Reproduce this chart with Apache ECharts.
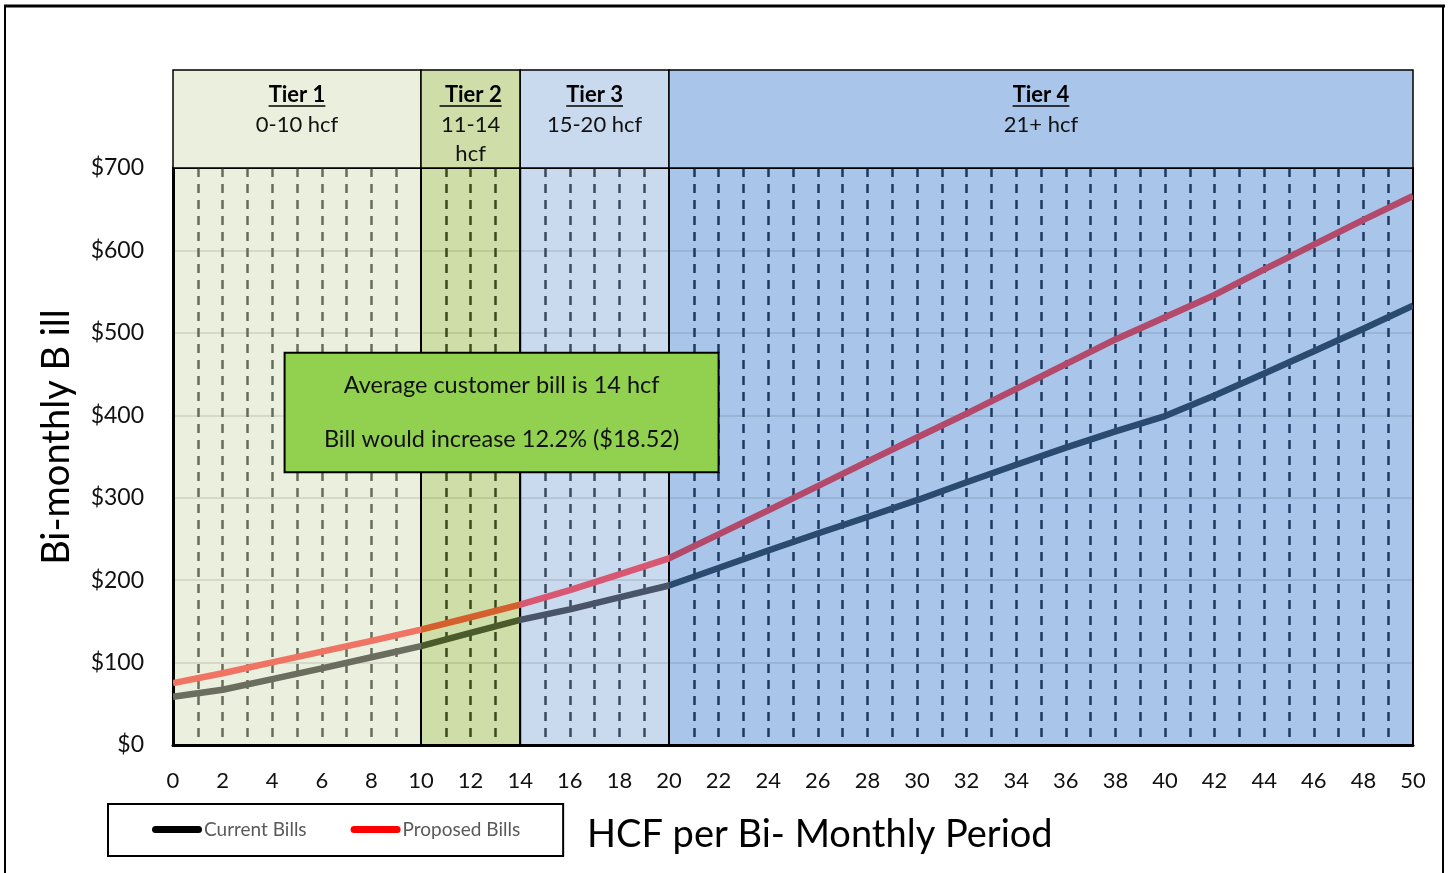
<!DOCTYPE html>
<html><head><meta charset="utf-8">
<script src="https://cdn.jsdelivr.net/npm/echarts@6/dist/echarts.min.js"></script>
<style>html,body{margin:0;padding:0;background:#fff}#c{width:1448px;height:873px}</style>
</head><body><div id="c"></div>
<script>
// ---------- data ----------
const hcf = [0,2,4,6,8,10,12,14,16,18,20,22,24,26,28,30,32,34,36,38,40,42,44,46,48,50];
const currentBills  = [58.6,67,80,93,106.5,120,136,151.8,164.6,179,193.5,214.7,236,256.6,276.6,297,318.7,340,360.7,380.5,399,424,450.7,477.7,505,533];
const proposedBills = [75,87,100.3,113.2,126.3,140,155,170.3,188,207,226.5,255.5,284.6,314,343.7,373,402,432,462,492,519,546,577,607,637,666];
const tierNames  = ['Tier 1',' Tier 2','Tier 3','Tier 4'];
const tierRanges = ['0-10 hcf','11-14\nhcf','15-20 hcf','21+ hcf'];
const tierStart  = [0,10,14,20];
const tierEnd    = [10,14,20,50];
const noteLines  = ['Average customer bill is 14 hcf','Bill would increase 12.2% ($18.52)'];
const seriesNames = ['Current Bills','Proposed Bills'];
const yAxisTitle = 'Bi-monthly B ill';
const xAxisTitle = 'HCF per Bi- Monthly Period';

// ---------- styles ----------
const FONT = 'Lato, "Open Sans", sans-serif';
const tierBg      = ['#ebefdd','#cfdea8','#c9d9ee','#a9c6ea'];
const tierDash    = ['#676c5b','#3a4a1d','#38485f','#1d3960'];
const currentCols = ['#6b6e5e','#4b5a2a','#4a5468','#2b4a6f'];
const proposedCols= ['#f07464','#d4602e','#d75870','#b34a6b'];
const X_MIN = 0, X_MAX = 50, Y_MAX = 700;

const cur = hcf.map((x,i)=>[x,currentBills[i]]);
const pro = hcf.map((x,i)=>[x,proposedBills[i]]);
const tierData = tierStart.map((s,i)=>[s,tierEnd[i],i,0]);

const dashColors = [];
for (let v = X_MIN; v <= X_MAX; v++) {
  let c = 'rgba(0,0,0,0)';
  for (let i = 0; i < tierStart.length; i++) {
    if (v > tierStart[i] && v < tierEnd[i]) c = tierDash[i];
  }
  dashColors.push(c);
}
function pieces(cols){
  return tierStart.map((s,i)=> i < tierStart.length-1 ? {gte:s, lt:tierEnd[i], color:cols[i]} : {gte:s, lte:tierEnd[i], color:cols[i]});
}
const mctx = document.createElement('canvas').getContext('2d');
function textW(t, font){ mctx.font = font; return mctx.measureText(t).width; }

const chart = echarts.init(document.getElementById('c'), null, {renderer:'canvas'});
chart.setOption({
  animation:false,
  backgroundColor:'#fff',
  textStyle:{fontFamily:FONT},
  grid:[
    {left:173, top:168, width:1240, height:577},
    {left:173, top:70, width:1240, height:98}
  ],
  xAxis:[
    {type:'value', gridIndex:0, min:X_MIN, max:X_MAX, interval:2,
     axisLine:{show:true, onZero:false, lineStyle:{color:'#000', width:3}},
     axisTick:{show:false}, splitLine:{show:false},
     axisLabel:{color:'#111', fontSize:22, fontFamily:FONT, margin:25}},
    {type:'value', gridIndex:0, min:X_MIN, max:X_MAX, interval:1, position:'bottom',
     axisLine:{show:false}, axisTick:{show:false}, axisLabel:{show:false},
     splitLine:{show:true, lineStyle:{color:dashColors, width:2.5, type:[9,7]}}},
    {type:'value', gridIndex:1, min:X_MIN, max:X_MAX, show:false}
  ],
  yAxis:[
    {type:'value', gridIndex:0, min:0, max:Y_MAX, interval:100,
     axisLine:{show:true, lineStyle:{color:'#000', width:3}}, axisTick:{show:false},
     splitLine:{show:true, lineStyle:{color:'rgba(0,0,0,0.09)', width:2}},
     axisLabel:{color:'#111', fontSize:23, fontFamily:FONT, margin:29, formatter:v=>'$'+v}},
    {type:'value', gridIndex:1, min:0, max:1, show:false}
  ],
  visualMap:[
    {type:'piecewise', show:false, dimension:0, seriesIndex:2, pieces:pieces(currentCols)},
    {type:'piecewise', show:false, dimension:0, seriesIndex:3, pieces:pieces(proposedCols)}
  ],
  legend:{
    left:108, top:804, orient:'horizontal',
    padding:[16,43,17,44], itemGap:44, itemWidth:50, itemHeight:7,
    borderColor:'#000', borderWidth:2,
    icon:'path://M3.5,0 H46.5 A3.5,3.5 0 0 1 46.5,7 H3.5 A3.5,3.5 0 0 1 3.5,0 Z',
    textStyle:{color:'#595959', fontSize:19, fontFamily:FONT, padding:[0,0,0,-3]},
    data:[{name:seriesNames[0], itemStyle:{color:'#000'}},{name:seriesNames[1], itemStyle:{color:'#ff0000'}}]
  },
  series:[
    {type:'custom', name:'tiers', xAxisIndex:0, yAxisIndex:0, z:-1, silent:true,
     encode:{x:[0,1], y:3}, data:tierData,
     renderItem:function(params, api){
       const i = api.value(2);
       const a = api.coord([api.value(0), Y_MAX]);
       const b = api.coord([api.value(1), 0]);
       return {type:'rect', shape:{x:a[0], y:a[1], width:b[0]-a[0], height:b[1]-a[1]},
               style:{fill:tierBg[i], stroke:'#000', lineWidth:2}};
     }},
    {type:'custom', name:'tierHeads', xAxisIndex:2, yAxisIndex:1, silent:true,
     encode:{x:[0,1], y:3}, data:tierData,
     renderItem:function(params, api){
       const i = api.value(2);
       const a = api.coord([api.value(0), 1]);
       const b = api.coord([api.value(1), 0]);
       const cx = (a[0]+b[0])/2;
       const bold = 'bold 22px ' + FONT;
       const w = textW(tierNames[i], bold);
       return {type:'group', children:[
         {type:'rect', shape:{x:a[0], y:a[1], width:b[0]-a[0], height:b[1]-a[1]},
          style:{fill:tierBg[i], stroke:'#000', lineWidth:1.5}},
         {type:'text', x:cx, y:a[1]+25, style:{text:tierNames[i], font:bold, fill:'#000', align:'center', verticalAlign:'middle'}},
         {type:'line', shape:{x1:cx-w/2, y1:a[1]+36, x2:cx+w/2, y2:a[1]+36}, style:{stroke:'#000', lineWidth:1.5}},
         {type:'text', x:cx, y:a[1]+40.5, style:{text:tierRanges[i], font:'22px '+FONT, fill:'#111', align:'center', verticalAlign:'top', lineHeight:29}}
       ]};
     }},
    {type:'line', name:seriesNames[0], xAxisIndex:0, yAxisIndex:0, data:cur, showSymbol:false, z:3,
     lineStyle:{width:6.5},
     markArea:{silent:true,
       itemStyle:{color:'#92d050', borderColor:'#000', borderWidth:2},
       label:{show:true, position:'inside', color:'#111', fontSize:23.5, fontFamily:FONT, lineHeight:54,
              formatter:noteLines.join('\n')},
       data:[[{xAxis:4.5, yAxis:476},{xAxis:22, yAxis:331}]]}},
    {type:'line', name:seriesNames[1], xAxisIndex:0, yAxisIndex:0, data:pro, showSymbol:false, z:3,
     lineStyle:{width:6.5}}
  ],
  graphic:[
    {type:'rect', z:-10, silent:true, shape:{x:5, y:6, width:1438, height:900}, style:{fill:'none', stroke:'#000', lineWidth:2}},
    {type:'line', z:-10, silent:true, shape:{x1:4, y1:6, x2:1445, y2:6}, style:{stroke:'#000', lineWidth:3}},
    {type:'text', x:57, y:437, rotation:Math.PI/2, silent:true,
     style:{text:yAxisTitle, font:'38px '+FONT, fill:'#000', align:'center', verticalAlign:'middle'}},
    {type:'text', x:587, y:835, silent:true,
     style:{text:xAxisTitle, font:'38px '+FONT, fill:'#000', align:'left', verticalAlign:'middle'}}
  ]
});
</script></body></html>
